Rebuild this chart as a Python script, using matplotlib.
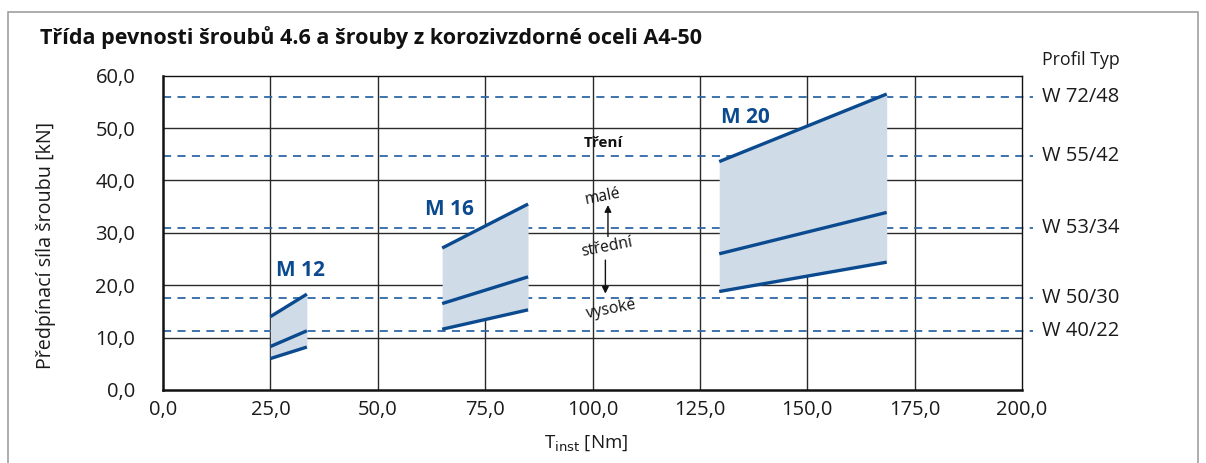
import matplotlib
matplotlib.use("Agg")
import matplotlib.pyplot as plt
from matplotlib.patches import Rectangle

plt.rcParams['font.family'] = ['Open Sans', 'DejaVu Sans']

# --- data -----------------------------------------------------------------
x_ticks = [0, 25, 50, 75, 100, 125, 150, 175, 200]
x_tick_labels = ["0,0", "25,0", "50,0", "75,0", "100,0", "125,0", "150,0", "175,0", "200,0"]
y_ticks = [0, 10, 20, 30, 40, 50, 60]
y_tick_labels = ["0,0", "10,0", "20,0", "30,0", "40,0", "50,0", "60,0"]

# bolt sizes: torque range and preload at low / medium / high friction
sizes = ["M 12", "M 16", "M 20"]
torque_start = [25, 65, 129.5]
torque_end = [33.5, 85, 168.5]
preload_low_friction = [(14.0, 18.3), (27.1, 35.5), (43.6, 56.5)]
preload_mid_friction = [(8.3, 11.3), (16.5, 21.6), (26.0, 33.9)]
preload_high_friction = [(6.0, 8.2), (11.6, 15.3), (18.8, 24.4)]
size_label_pos = [(26.3, 22.9), (61.0, 34.5), (130.0, 52.0)]

# profile types and their reference preload levels
profiles = ["W 72/48", "W 55/42", "W 53/34", "W 50/30", "W 40/22"]
profile_levels = [55.9, 44.6, 31.0, 17.5, 11.3]

# --- figure ---------------------------------------------------------------
W, H = 1206, 463
fig = plt.figure(figsize=(W / 100, H / 100), dpi=100)
ax = fig.add_axes([163 / W, 1 - 390 / H, (1022 - 163) / W, (390 - 75.7) / H])

blue = "#0b4a8e"
fill_col = "#cfdbe7"
dash_col = "#2f68a6"
ink = "#1a1a1a"

ax.set_xlim(0, 200)
ax.set_ylim(0, 60)

# grid
for xv in x_ticks[1:-1]:
    ax.plot([xv, xv], [0, 60], color="#2a2a2a", lw=1.0, zorder=1)
for yv in y_ticks[1:-1]:
    ax.plot([0, 200], [yv, yv], color="#2a2a2a", lw=1.0, zorder=1)

# profile reference lines, running past the right edge
for lvl, name in zip(profile_levels, profiles):
    ax.plot([0, 202.6], [lvl, lvl], color=dash_col, lw=1.3,
            dashes=(4.5, 3.5), clip_on=False, zorder=2)
    ax.text(204.6, lvl, name, fontsize=14.5, va="center", ha="left",
            color=ink, clip_on=False)
ax.text(204.6, 63.0, "Profil Typ", fontsize=12.8, va="center", ha="left",
        color=ink, clip_on=False)

# preload bands
for i, name in enumerate(sizes):
    xs = [torque_start[i], torque_end[i]]
    lo = preload_high_friction[i]
    hi = preload_low_friction[i]
    ax.fill_between(xs, lo, hi, color=fill_col, lw=0, zorder=3)
    for line in (preload_low_friction[i], preload_mid_friction[i], preload_high_friction[i]):
        ax.plot(xs, line, color=blue, lw=2.4, solid_capstyle="butt", zorder=4)
    lx, ly = size_label_pos[i]
    ax.text(lx, ly, name, color=blue, fontsize=15, fontweight="bold",
            ha="left", va="center", zorder=5)

# friction annotation
ax.text(102.5, 47.1, "Tření", fontsize=11, fontweight="bold", ha="center",
        va="center", color="#111")
ax.text(102.4, 37.0, "malé", fontsize=11.3, rotation=11, ha="center", va="center", color="#111")
ax.text(103.3, 27.3, "střední", fontsize=11.3, rotation=11, ha="center", va="center", color="#111")
ax.text(104.2, 15.4, "vysoké", fontsize=11.3, rotation=11, ha="center", va="center", color="#111")
ax.annotate("", xy=(103.6, 35.3), xytext=(103.6, 29.3),
            arrowprops=dict(arrowstyle="-|>", color="#111", lw=1.0,
                            mutation_scale=10, shrinkA=0, shrinkB=0))
ax.annotate("", xy=(103.0, 18.4), xytext=(103.0, 24.8),
            arrowprops=dict(arrowstyle="-|>", color="#111", lw=1.0,
                            mutation_scale=10, shrinkA=0, shrinkB=0))

# axes frame
for side in ("left", "bottom"):
    ax.spines[side].set_linewidth(1.8)
for side in ("top", "right"):
    ax.spines[side].set_linewidth(1.0)
for sp in ax.spines.values():
    sp.set_color("#111")

ax.set_xticks(x_ticks)
ax.set_xticklabels(x_tick_labels, fontsize=14.5)
ax.set_yticks(y_ticks)
ax.set_yticklabels(y_tick_labels, fontsize=14.5)
ax.tick_params(axis="both", length=0, colors=ink)
ax.tick_params(axis="y", pad=20)
ax.tick_params(axis="x", pad=7)

fig.text(46 / W, 1 - 245 / H, "Předpínací síla šroubu [kN]", rotation=90,
         fontsize=14.2, ha="center", va="center", color=ink)
fig.text(586 / W, 1 - 443 / H, r"T$_{\mathrm{inst}}$ [Nm]", fontsize=13.5,
         ha="center", va="center", color=ink)
fig.text(40 / W, 1 - 38 / H,
         "Třída pevnosti šroubů 4.6 a šrouby z korozivzdorné oceli A4-50",
         fontsize=15.5, fontweight="bold", ha="left", va="center", color="#111")

# outer panel border
fig.patches.append(Rectangle((8 / W, -0.05), (1198 - 8) / W, 1 - 12 / H + 0.05,
                             transform=fig.transFigure, fill=False,
                             edgecolor="#a0a0a0", lw=1.2))

fig.savefig("out.png", dpi=100)
